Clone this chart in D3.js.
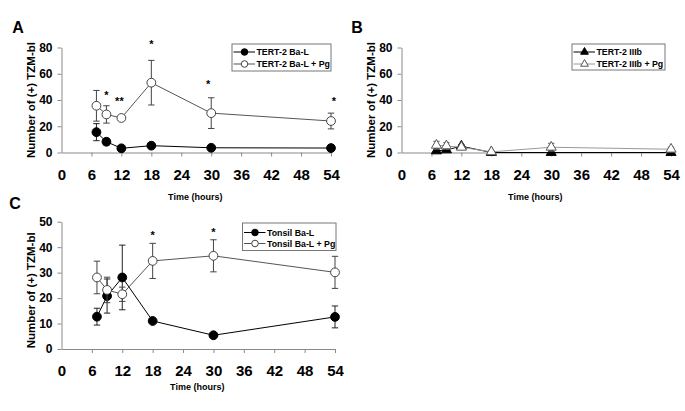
<!DOCTYPE html>
<html>
<head>
<meta charset="utf-8">
<script src="https://cdn.jsdelivr.net/npm/d3@7"></script>
<style>
  html, body { margin: 0; padding: 0; background: #fff; }
  svg { display: block; font-family: "Liberation Sans", Arial, sans-serif; }
</style>
</head>
<body>
<svg id="chart" width="685" height="411"></svg>
<script>
// ---------- Data ----------
const hours = [7, 9, 12, 18, 30, 54];
const xTicks = [0, 6, 12, 18, 24, 30, 36, 42, 48, 54];

// Panel A
const yTicksA = [0, 20, 40, 60, 80];
const tertBaL = [15.5, 8.2, 3.2, 5.2, 3.6, 3.4];
const tertBaLErr = [6.5, 2.5, 1, 1, 0.8, 0.5];
const tertBaLPg = [35.6, 29, 26.3, 53.2, 30, 24];
const tertBaLPgErr = [11.7, 6.6, 1.5, 17, 11.7, 6];
const starsAx = [9, 11.6, 18, 29.4, 54.6];
const starsAy = [44.6, 40, 83.7, 53.2, 40];
const starsAtxt = ["*", "**", "*", "*", "*"];

// Panel B
const yTicksB = [0, 20, 40, 60, 80];
const tertIIIb = [1.2, 2, 4.8, 0, 0, 0];
const tertIIIbErr = [0.8, 1, 1, 0, 0, 0];
const tertIIIbPg = [5.5, 5, 4, 0.5, 4, 2.5];
const tertIIIbPgErr = [3, 2.5, 1, 0.3, 3, 1.5];

// Panel C
const yTicksC = [0, 10, 20, 30, 40, 50];
const tonsilBaL = [12.7, 20.8, 28.1, 11, 5.4, 12.6];
const tonsilBaLErr = [3.3, 6.7, 12.7, 0.8, 0.5, 4.3];
const tonsilBaLPg = [28.1, 23.2, 21.5, 34.6, 36.6, 30.1];
const tonsilBaLPgErr = [6.4, 5, 2.8, 6.9, 6.3, 6.3];
const starsCx = [18, 30];
const starsCy = [45, 46.3];
const starsCtxt = ["*", "*"];

// ---------- Drawing ----------
const svg = d3.select("#chart");

function drawPanel(cfg) {
  const x = d3.scaleLinear().domain([0, 54]).range(cfg.xr);
  const y = d3.scaleLinear().domain([0, cfg.ymax]).range(cfg.yr);
  const g = svg.append("g");

  // axes
  const xa = g.append("g").attr("transform", `translate(0,${cfg.yr[0]})`)
    .call(d3.axisBottom(x).tickValues(xTicks).tickSize(4).tickSizeOuter(0).tickPadding(12.5).tickFormat(d3.format("d")));
  const ya = g.append("g").attr("transform", `translate(${cfg.xr[0]},0)`)
    .call(d3.axisLeft(y).tickValues(cfg.yTicks).tickSize(4).tickSizeOuter(0).tickPadding(5).tickFormat(d3.format("d")));
  [xa, ya].forEach(a => {
    a.select(".domain").attr("stroke", "#8a8a8a");
    a.selectAll(".tick line").attr("stroke", "#8a8a8a");
  });
  xa.select(".tick line").attr("stroke", "none"); // no tick at 0
  xa.selectAll("text").attr("font-size", 15).attr("font-weight", "bold").attr("fill", "#000")
    .attr("font-family", "Liberation Sans, Arial, sans-serif");
  ya.selectAll("text").attr("font-size", 12).attr("font-weight", "bold").attr("fill", "#000")
    .attr("font-family", "Liberation Sans, Arial, sans-serif");

  // axis titles
  g.append("text").attr("x", (cfg.xr[0] + cfg.xr[1]) / 2 - 1).attr("y", cfg.xTitleY)
    .attr("text-anchor", "middle").attr("font-size", 9).attr("font-weight", "bold")
    .text("Time (hours)");
  const ymid = (cfg.yr[0] + cfg.yr[1]) / 2 + cfg.yTitleShift;
  g.append("text").attr("transform", `translate(${cfg.xr[0] - 27},${ymid}) rotate(-90)`)
    .attr("text-anchor", "middle").attr("font-size", 11.5).attr("font-weight", "bold")
    .text("Number of (+) TZM-bl");

  // panel letter
  g.append("text").attr("x", cfg.letterX).attr("y", cfg.letterY)
    .attr("text-anchor", "middle").attr("font-size", 16).attr("font-weight", "bold")
    .text(cfg.letter);

  const line = d3.line().x(d => x(d[0])).y(d => y(d[1]));

  function marker(sel, shape, filled) {
    if (shape === "circle") {
      sel.append("circle").attr("r", 4.4)
        .attr("fill", filled ? "#000" : "#fff")
        .attr("stroke", filled ? "#000" : "#444").attr("stroke-width", 1);
    } else {
      sel.append("path").attr("d", d3.symbol(d3.symbolTriangle, 44)())
        .attr("fill", filled ? "#000" : "#fff")
        .attr("stroke", filled ? "#000" : "#555").attr("stroke-width", 1);
    }
  }

  cfg.series.forEach(s => {
    const pts = hours.map((h, i) => [h, s.values[i], s.err[i]]);
    const sg = g.append("g");
    sg.append("path").datum(pts).attr("d", line).attr("fill", "none")
      .attr("stroke", s.lineColor).attr("stroke-width", 1);
    // error bars
    const eb = sg.selectAll(".eb").data(pts.filter(p => p[2] > 0)).join("g");
    eb.append("line").attr("x1", p => x(p[0])).attr("x2", p => x(p[0]))
      .attr("y1", p => y(p[1] + p[2])).attr("y2", p => y(Math.max(0, p[1] - p[2])))
      .attr("stroke", s.errColor).attr("stroke-width", 1);
    [1, -1].forEach(sign => {
      eb.append("line").attr("x1", p => x(p[0]) - 3.2).attr("x2", p => x(p[0]) + 3.2)
        .attr("y1", p => y(Math.max(0, p[1] + sign * p[2]))).attr("y2", p => y(Math.max(0, p[1] + sign * p[2])))
        .attr("stroke", s.errColor).attr("stroke-width", 1);
    });
    // markers
    sg.selectAll(".mk").data(pts).join("g")
      .attr("transform", p => `translate(${x(p[0])},${y(p[1])})`)
      .each(function () { marker(d3.select(this), s.shape, s.filled); });
  });

  // stars
  if (cfg.stars) {
    g.selectAll(".star").data(cfg.stars).join("text")
      .attr("x", d => x(d[0])).attr("y", d => y(d[1]) + 5)
      .attr("text-anchor", "middle").attr("font-size", 11).attr("font-weight", "bold")
      .text(d => d[2]);
  }

  // legend
  const L = cfg.legend;
  const lg = g.append("g");
  lg.append("rect").attr("x", L.x).attr("y", L.y).attr("width", L.w).attr("height", L.h)
    .attr("fill", "#fff").attr("stroke", "#777").attr("stroke-width", 1);
  cfg.series.forEach((s, i) => {
    const yy = L.y + L.rows[i];
    lg.append("line").attr("x1", L.x + 1.5).attr("x2", L.x + 23).attr("y1", yy).attr("y2", yy)
      .attr("stroke", s.lineColor).attr("stroke-width", 1);
    const m = lg.append("g").attr("transform", `translate(${L.x + 12.5},${yy})`);
    marker(m, s.shape, s.filled);
    m.selectAll("circle").attr("r", 3.3);
    m.selectAll("path").attr("d", d3.symbol(d3.symbolTriangle, 26)());
    lg.append("text").attr("x", L.x + 24.5).attr("y", yy + 3.2)
      .attr("font-size", 8.8).attr("font-weight", "bold").text(s.name);
  });
}

drawPanel({
  letter: "A", letterX: 18, letterY: 33,
  xr: [61.5, 331], yr: [152.5, 47.5], ymax: 80, yTicks: yTicksA,
  xTitleY: 200, yTitleShift: 0,
  series: [
    { name: "TERT-2 Ba-L", values: tertBaL, err: tertBaLErr, shape: "circle", filled: true, lineColor: "#000", errColor: "#222" },
    { name: "TERT-2 Ba-L + Pg", values: tertBaLPg, err: tertBaLPgErr, shape: "circle", filled: false, lineColor: "#555", errColor: "#444" }
  ],
  stars: starsAx.map((v, i) => [v, starsAy[i], starsAtxt[i]]),
  legend: { x: 232, y: 44, w: 99, h: 27, rows: [8, 20] }
});

drawPanel({
  letter: "B", letterX: 357, letterY: 33,
  xr: [401.5, 671], yr: [152.5, 47.5], ymax: 80, yTicks: yTicksB,
  xTitleY: 200, yTitleShift: 0,
  series: [
    { name: "TERT-2 IIIb", values: tertIIIb, err: tertIIIbErr, shape: "triangle", filled: true, lineColor: "#000", errColor: "#222" },
    { name: "TERT-2 IIIb + Pg", values: tertIIIbPg, err: tertIIIbPgErr, shape: "triangle", filled: false, lineColor: "#999", errColor: "#666" }
  ],
  stars: null,
  legend: { x: 572, y: 44, w: 93, h: 26, rows: [8, 20] }
});

drawPanel({
  letter: "C", letterX: 15, letterY: 209,
  xr: [61.5, 335], yr: [349, 221.7], ymax: 50, yTicks: yTicksC,
  xTitleY: 390, yTitleShift: 5,
  series: [
    { name: "Tonsil Ba-L", values: tonsilBaL, err: tonsilBaLErr, shape: "circle", filled: true, lineColor: "#000", errColor: "#222" },
    { name: "Tonsil Ba-L + Pg", values: tonsilBaLPg, err: tonsilBaLPgErr, shape: "circle", filled: false, lineColor: "#555", errColor: "#444" }
  ],
  stars: starsCx.map((v, i) => [v, starsCy[i], starsCtxt[i]]),
  legend: { x: 242.5, y: 223, w: 93.5, h: 27.5, rows: [9.5, 20.5] }
});
</script>
</body>
</html>
